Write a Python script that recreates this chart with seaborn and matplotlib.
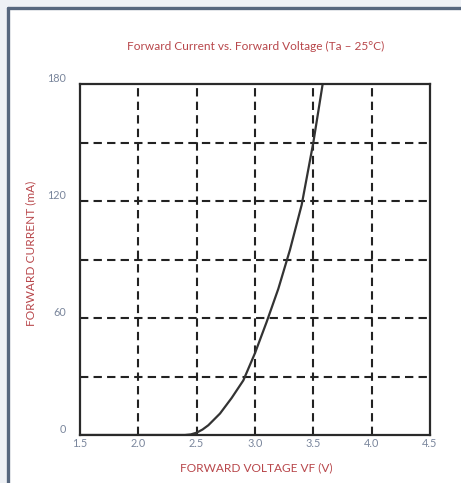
"""
Forward current vs forward voltage curve for an LED (Ta = 25 C).

Output:
    out.png
"""

import matplotlib.pyplot as plt
import matplotlib.patches as mpatches
import matplotlib.lines as mlines
import pandas as pd
import seaborn as sns


# values
FORWARD_VOLTAGE = [1.5, 2.0, 2.4, 2.45, 2.5, 2.55, 2.6, 2.65, 2.7, 2.75, 2.8, 2.85, 2.9,
                   3.0, 3.1, 3.2, 3.3, 3.4, 3.5, 3.58]
FORWARD_CURRENT = [0, 0, 0, 0.3, 1.2, 2.8, 5, 8, 11, 15, 19, 23.5, 28,
                   42, 58, 75, 95, 118, 150, 180]

X_TICKS = [1.5, 2.0, 2.5, 3.0, 3.5, 4.0, 4.5]
Y_GRID = [0, 30, 60, 90, 120, 150, 180]
Y_LABELED = [0, 60, 120, 180]

TITLE = "Forward Current vs. Forward Voltage (Ta \u2013 25\u00b0C)"
X_LABEL = "FORWARD VOLTAGE VF (V)"
Y_LABEL = "FORWARD CURRENT (mA)"

RED = "#b8474b"
TICK_GREY = "#7a869c"
FRAME = "#56677e"


def setup_style() -> None:
    sns.set_theme(style="white", rc={"axes.linewidth": 1.6})
    plt.rcParams["font.family"] = ["Lato", "DejaVu Sans"]


def main() -> None:
    setup_style()
    df = pd.DataFrame({"vf": FORWARD_VOLTAGE, "if_ma": FORWARD_CURRENT})

    fig = plt.figure(figsize=(4.61, 4.83), dpi=100, facecolor="#eef1f5")
    # white panel with the dark frame on the left/top
    x0, y0 = 8 / 461, 1 - 8 / 483
    fig.patches.append(
        mpatches.Rectangle((x0, 0), 1 - x0, y0, transform=fig.transFigure,
                           facecolor="white", edgecolor="none", zorder=-2)
    )
    fig.lines.append(mlines.Line2D([x0, x0], [0, y0], transform=fig.transFigure,
                                   color=FRAME, lw=2.4, zorder=-1))
    fig.lines.append(mlines.Line2D([x0, 1], [y0, y0], transform=fig.transFigure,
                                   color=FRAME, lw=2.4, zorder=-1))

    ax = fig.add_axes([80 / 461, 1 - 435 / 483, 350 / 461, 351 / 483])
    ax.set_zorder(2)
    ax.set_facecolor("white")

    for x in X_TICKS[1:-1]:
        ax.axvline(x, color="#222222", lw=1.5, ls=(0, (4, 2.5)), zorder=1)
    for y in Y_GRID[1:-1]:
        ax.axhline(y, color="#222222", lw=1.5, ls=(0, (4, 2.5)), zorder=1)

    sns.lineplot(data=df, x="vf", y="if_ma", color="#333333", lw=1.6, ax=ax, zorder=3)

    ax.set_xlim(1.5, 4.5)
    ax.set_ylim(0, 180)
    for s in ax.spines.values():
        s.set_visible(True)
        s.set_color("#2a2a2a")
        s.set_linewidth(1.6)
        s.set_zorder(4)

    ax.set_xticks(X_TICKS)
    ax.set_xticklabels([f"{v:.1f}" for v in X_TICKS])
    ax.set_yticks(Y_LABELED)
    ax.set_yticklabels([str(v) for v in Y_LABELED])
    ax.tick_params(axis="x", length=0, pad=2, labelsize=7.8, labelcolor=TICK_GREY)
    ax.tick_params(axis="y", length=0, pad=10, labelsize=7.8, labelcolor=TICK_GREY)
    for lab in ax.get_yticklabels():
        lab.set_verticalalignment("bottom")

    ax.set_xlabel("")
    ax.set_ylabel("")
    fig.text(256 / 461, 1 - 468 / 483, X_LABEL, color=RED, fontsize=8.6,
             ha="center", va="center")
    fig.text(31 / 461, 1 - 253 / 483, Y_LABEL, color=RED, fontsize=8.6,
             ha="center", va="center", rotation=90)
    fig.text(256 / 461, 1 - 46 / 483, TITLE, color=RED, fontsize=8.6,
             ha="center", va="center")

    fig.savefig("out.png", dpi=100, facecolor=fig.get_facecolor())
    plt.close(fig)


if __name__ == "__main__":
    main()
